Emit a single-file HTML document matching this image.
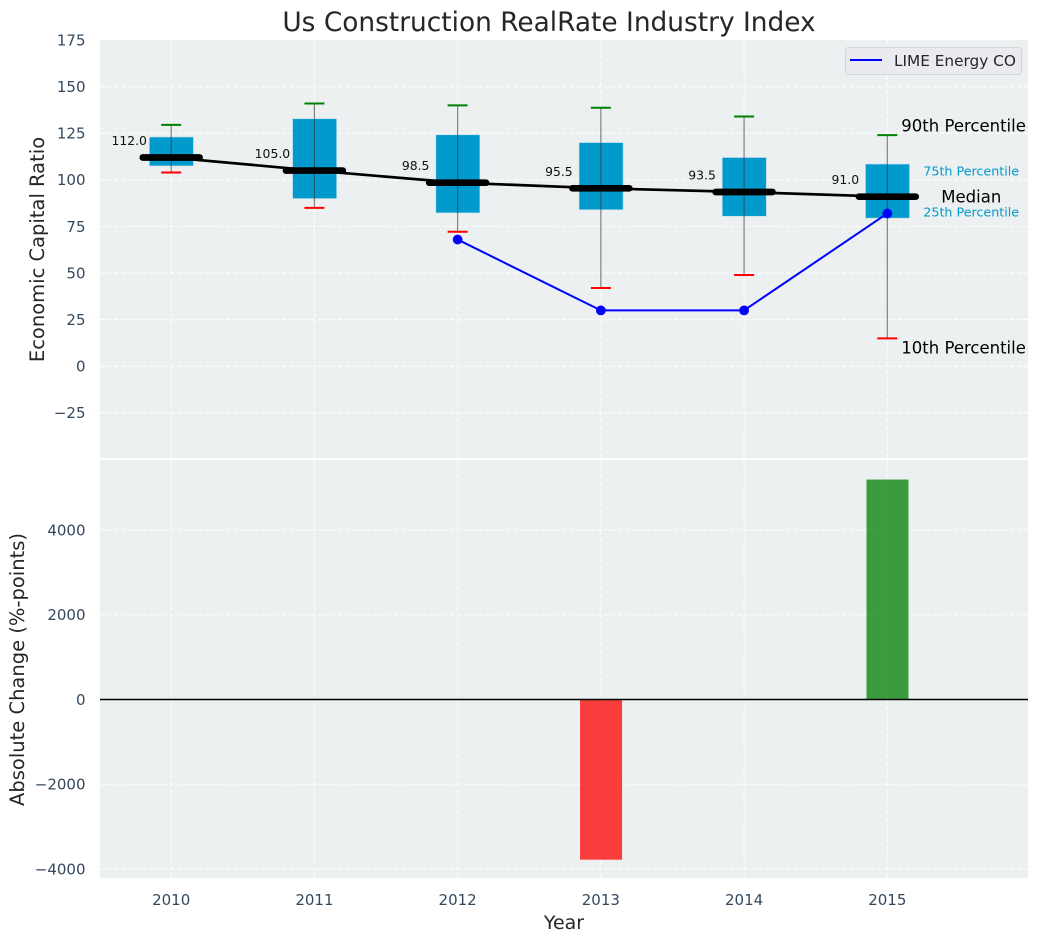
<!DOCTYPE html>
<html>
<head>
<meta charset="utf-8">
<title>Us Construction RealRate Industry Index</title>
<style>
html,body{margin:0;padding:0;background:#fff;width:1039px;height:942px;overflow:hidden}
svg{display:block;font-family:"DejaVu Sans","Liberation Sans",sans-serif}
</style>
</head>
<body>
<svg id="chart" xmlns="http://www.w3.org/2000/svg" width="1039" height="942" viewBox="0 0 1039 942">
  <rect width="1039" height="942" fill="#ffffff"/>
  <rect x="100" y="40" width="928" height="418" fill="#ecf0f1"/>
  <rect x="100" y="460" width="928" height="418" fill="#ecf0f1"/>
  <g id="grid"></g>
  <g id="ticks"></g>
  <g id="marks"></g>
  <g id="bars"></g>
  <text x="549" y="31" font-size="26.4" text-anchor="middle" fill="#262626">Us Construction RealRate Industry Index</text>
  <text transform="translate(44 249.5) rotate(-90)" font-size="19.5" text-anchor="middle" fill="#262626">Economic Capital Ratio</text>
  <text transform="translate(24 669.5) rotate(-90)" font-size="19.5" text-anchor="middle" fill="#262626">Absolute Change (%-points)</text>
  <text x="564" y="929" font-size="19" text-anchor="middle" fill="#262626">Year</text>
  <g>
    <rect x="845.5" y="47.5" width="176" height="27" rx="3" fill="#eaebf0" stroke="#d2d4d8"/>
    <line x1="850" y1="60" x2="882" y2="60" stroke="#0000ff" stroke-width="2"/>
    <text x="894" y="66" font-size="15.3" fill="#262626">LIME Energy CO</text>
  </g>
</svg>
<script>
const years = [2010, 2011, 2012, 2013, 2014, 2015];
const p90 = [129.5, 141, 140, 138.7, 134, 124];
const q3 = [123, 132.8, 124.2, 120, 112, 108.5];
const medians = [112, 105, 98.5, 95.5, 93.5, 91];
const q1 = [107.5, 90, 82.3, 84, 80.5, 79.5];
const p10 = [104, 85, 72.2, 42, 49, 15];
const limeYears = [2012, 2013, 2014, 2015];
const limeValues = [68, 30, 30, 82];
const changeYears = [2013, 2015];
const changeValues = [-3780, 5190];
const topTicks = [175, 150, 125, 100, 75, 50, 25, 0, -25];
const bottomTicks = [4000, 2000, 0, -2000, -4000];

const NS = 'http://www.w3.org/2000/svg';
const xPos = v => 171.2 + (v - 2010) * 143.22;
const yTop = v => 366.3 - v * 1.864;
const yBot = v => 699.5 - v * 0.04238;
const gridG = document.getElementById('grid');
const ticksG = document.getElementById('ticks');
const marksG = document.getElementById('marks');
const barsG = document.getElementById('bars');

function mk(parent, tag, attrs, text) {
  const el = document.createElementNS(NS, tag);
  for (const k in attrs) el.setAttribute(k, attrs[k]);
  if (text !== undefined) el.textContent = text;
  parent.appendChild(el);
  return el;
}
const fmt = v => String(v).replace('-', '\u2212');
const gridStyle = {stroke: '#ffffff', 'stroke-width': 1.1, 'stroke-dasharray': '4.5 2.5', opacity: 0.9};

topTicks.forEach(t => {
  const y = yTop(t);
  if (y > 42) {
    const g = mk(gridG, 'line', Object.assign({x1: 100, x2: 1028, y1: y, y2: y}, gridStyle));
    
    
  }
  const l = mk(ticksG, 'text', {x: 85.5, y: y + 5.3, 'font-size': 15, 'text-anchor': 'end', fill: '#34495e'}, fmt(t));
  
  
});
bottomTicks.forEach(t => {
  const y = yBot(t);
  const g = mk(gridG, 'line', Object.assign({x1: 100, x2: 1028, y1: y, y2: y}, gridStyle));
  
  
  const l = mk(ticksG, 'text', {x: 85.5, y: y + 5.3, 'font-size': 15, 'text-anchor': 'end', fill: '#34495e'}, fmt(t));
  
  
});
years.forEach(yr => {
  const x = xPos(yr);
  const g1 = mk(gridG, 'line', Object.assign({x1: x, x2: x, y1: 40, y2: 458}, gridStyle));
  
  
  const g2 = mk(gridG, 'line', Object.assign({x1: x, x2: x, y1: 460, y2: 878}, gridStyle));
  
  
  const l = mk(ticksG, 'text', {x: x, y: 905, 'font-size': 15, 'text-anchor': 'middle', fill: '#34495e'}, yr);
  
  
});

/* interquartile boxes, whiskers and caps */
years.forEach((yr, i) => {
  const x = xPos(yr);
  const b = mk(marksG, 'rect', {x: x - 21.8, y: yTop(q3[i]), width: 44, height: yTop(q1[i]) - yTop(q3[i]), fill: '#009acd', stroke: '#b8dcea', 'stroke-width': 0.6});
  
  
  const w = mk(marksG, 'line', {x1: x, x2: x, y1: yTop(p90[i]), y2: yTop(p10[i]), stroke: '#333333', 'stroke-width': 1.2, opacity: 0.6});
  
  
  const c1 = mk(marksG, 'line', {x1: x - 10, x2: x + 10, y1: yTop(p90[i]), y2: yTop(p90[i]), stroke: '#008000', 'stroke-width': 2});
  
  
  const c2 = mk(marksG, 'line', {x1: x - 10, x2: x + 10, y1: yTop(p10[i]), y2: yTop(p10[i]), stroke: '#ff0000', 'stroke-width': 2});
  
  
});

/* median trend line and thick median markers */
const medianLine = mk(marksG, 'polyline', {
  points: years.map((yr, i) => xPos(yr) + ',' + yTop(medians[i])).join(' '),
  fill: 'none', stroke: '#000000', 'stroke-width': 2.7
});


years.forEach((yr, i) => {
  const x = xPos(yr);
  const y = yTop(medians[i]);
  const m = mk(marksG, 'line', {x1: x - 28.4, x2: x + 28.4, y1: y, y2: y, stroke: '#000000', 'stroke-width': 6.7, 'stroke-linecap': 'round'});
  
  
  const t = mk(marksG, 'text', {x: x - 42, y: y - 12.5, 'font-size': 12.4, 'text-anchor': 'middle', fill: '#111111'}, medians[i].toFixed(1));
  
  
});

/* company series */
const limeLine = mk(marksG, 'polyline', {
  points: limeYears.map((yr, i) => xPos(yr) + ',' + yTop(limeValues[i])).join(' '),
  fill: 'none', stroke: '#0000ff', 'stroke-width': 2
});


limeYears.forEach((yr, i) => {
  const p = mk(marksG, 'circle', {cx: xPos(yr), cy: yTop(limeValues[i]), r: 4.9, fill: '#0000ff'});
  
  
});

/* percentile annotations anchored on the last year */
const lastI = years.length - 1;
const lastX = xPos(years[lastI]);
const a90 = mk(marksG, 'text', {x: lastX + 14, y: yTop(p90[lastI]) - 3.5, 'font-size': 16.5, fill: '#000000'}, '90th Percentile');


const a75 = mk(marksG, 'text', {x: lastX + 36, y: yTop(q3[lastI]) + 11.5, 'font-size': 12.7, fill: '#009acd'}, '75th Percentile');


const aMed = mk(marksG, 'text', {x: lastX + 54, y: yTop(medians[lastI]) + 6, 'font-size': 16.5, fill: '#000000'}, 'Median');


const a25 = mk(marksG, 'text', {x: lastX + 36, y: yTop(q1[lastI]) - 1.5, 'font-size': 12.7, fill: '#009acd'}, '25th Percentile');


const a10 = mk(marksG, 'text', {x: lastX + 14, y: yTop(p10[lastI]) + 15, 'font-size': 16.5, fill: '#000000'}, '10th Percentile');



/* absolute change bars */
changeYears.forEach((yr, i) => {
  const v = changeValues[i];
  const top = Math.min(yBot(v), yBot(0));
  const h = Math.abs(yBot(v) - yBot(0));
  const b = mk(barsG, 'rect', {x: xPos(yr) - 20.8, y: top, width: 42, height: h, fill: v < 0 ? '#ff0000' : '#008000', 'fill-opacity': 0.75});
  
  
});
const zero = mk(barsG, 'line', {x1: 100, x2: 1028, y1: yBot(0), y2: yBot(0), stroke: '#000000', 'stroke-width': 1.4});


</script>
</body>
</html>
